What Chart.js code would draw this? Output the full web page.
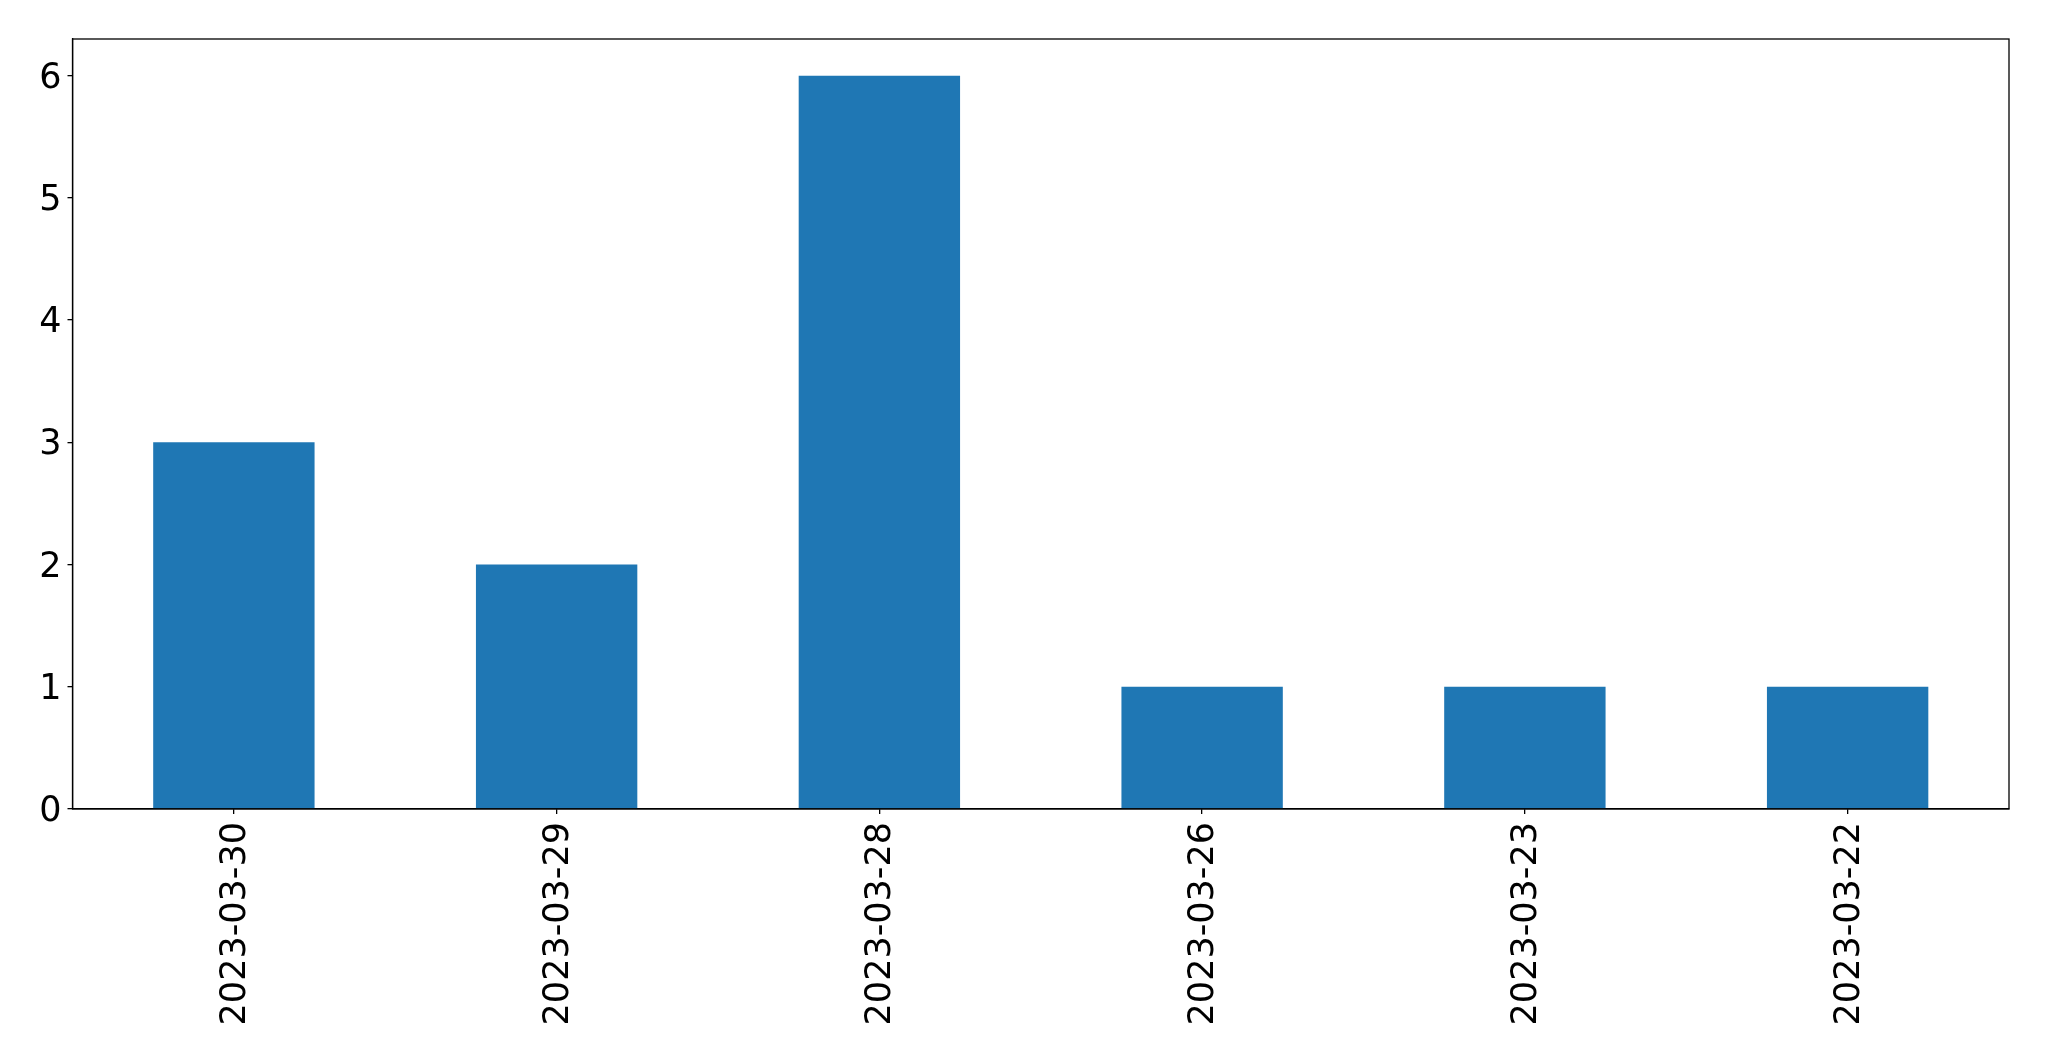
<!DOCTYPE html>
<html>
<head>
<meta charset="utf-8">
<script src="https://cdn.jsdelivr.net/npm/chart.js@4.4.0/dist/chart.umd.min.js"></script>
<style>
  html, body { margin: 0; padding: 0; background: #fff; }
  #wrap { width: 2049px; height: 1061px; }
</style>
</head>
<body>
<div id="wrap"><canvas id="chart" width="2049" height="1061"></canvas></div>
<script>
// data
var dates = ['2023-03-30', '2023-03-29', '2023-03-28', '2023-03-26', '2023-03-23', '2023-03-22'];
var counts = [3, 2, 6, 1, 1, 1];
var yTicks = [0, 1, 2, 3, 4, 5, 6];

// draw the full box around the plot, like matplotlib spines
var frame = {
	id: 'frame',
	afterDraw: function(chart) {
		var a = chart.chartArea;
		var ctx = chart.ctx;
		ctx.save();
		ctx.strokeStyle = '#000';
		ctx.lineWidth = 1.3;
		ctx.strokeRect(a.left, a.top, a.right - a.left, a.bottom - a.top);
		ctx.restore();
	}
};

var font = { family: 'DejaVu Sans', size: 35 };

var ctx = document.getElementById('chart').getContext('2d');
var chart = new Chart(ctx, {
	type: 'bar',
	data: {
		labels: dates,
		datasets: [{
			data: counts,
			backgroundColor: '#1f77b4',
			borderWidth: 0,
			barPercentage: 0.5,
			categoryPercentage: 1.0
		}]
	},
	options: {
		responsive: false,
		animation: false,
		devicePixelRatio: 1,
		layout: { padding: { top: 39, right: 40, left: 0, bottom: 0 } },
		plugins: { legend: { display: false }, tooltip: { enabled: false } },
		scales: {
			x: {
				grid: { offset: false, drawOnChartArea: false, drawTicks: true, tickLength: 5, color: '#000', lineWidth: 1.3 },
				border: { display: true, color: '#000', width: 1.3 },
				ticks: { color: '#000', font: font, minRotation: 90, maxRotation: 90, padding: 8, labelOffset: 2, autoSkip: false },
				afterFit: function(scale) { scale.height = 252; }
			},
			y: {
				min: 0,
				max: 6.3,
				grid: { drawOnChartArea: false, drawTicks: true, tickLength: 5, color: '#000', lineWidth: 1.3 },
				border: { display: true, color: '#000', width: 1.3 },
				ticks: { color: '#000', font: font, stepSize: 1, padding: 6, labelOffset: 3 },
				afterBuildTicks: function(scale) {
					scale.ticks = yTicks.map(function(v) { return { value: v }; });
				},
				afterFit: function(scale) { scale.width = 72.5; }
			}
		}
	},
	plugins: [frame]
});
</script>
</body>
</html>
